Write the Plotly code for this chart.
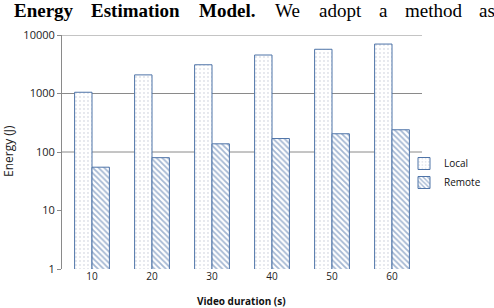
import plotly.graph_objects as go

# ---- data ----
durations = ["10", "20", "30", "40", "50", "60"]
local_energy = [1050, 2080, 3100, 4550, 5700, 7000]
remote_energy = [55, 80, 138, 170, 205, 240]
y_tick_vals = [1, 10, 100, 1000, 10000]
y_tick_text = ["1", "10", "100", "1000", "10000"]
grid_vals = [100, 1000, 10000]

heading_words = ["Energy", "Estimation", "Model.", "We", "adopt", "a", "method", "as"]
heading_bold = [True, True, True, False, False, False, False, False]

# ---- layout constants ----
W, H = 494, 308
L, R, T, B = 62, 72, 35, 39
PW = W - L - R
PH = H - T - B

def px_x(px):
    return (px - L) / PW

def px_y(py):
    return (H - B - py) / PH

edge = "#4f74a8"

fig = go.Figure()
fig.add_trace(go.Bar(
    name="Local", x=durations, y=local_energy,
    marker=dict(color="white", line=dict(color=edge, width=1),
                pattern=dict(shape=".", fgcolor="#7d8ca6", bgcolor="white",
                             size=4, solidity=0.1, fillmode="overlay")),
))
fig.add_trace(go.Bar(
    name="Remote", x=durations, y=remote_energy,
    marker=dict(color="white", line=dict(color=edge, width=1),
                pattern=dict(shape="\\", fgcolor="#4a6fa6", bgcolor="white",
                             size=4, solidity=0.45, fillmode="overlay")),
))

shapes = [dict(type="line", xref="paper", yref="y", x0=0, x1=1, y0=g, y1=g,
               line=dict(color="#8a8a8a", width=1), layer="below") for g in grid_vals]

# heading text (justified words)
word_x = [12, 89, 197, 273, 317, 377, 403, 477]
annotations = []
for w, b, xx in zip(heading_words, heading_bold, word_x):
    annotations.append(dict(
        text=f"<b>{w}</b>" if b else w, x=px_x(xx), y=px_y(11), xref="paper", yref="paper",
        xanchor="left", yanchor="middle", showarrow=False,
        font=dict(family="Liberation Serif", size=19, color="black")))

annotations.append(dict(
    text="Energy (J)", textangle=-90, x=px_x(8), y=px_y(151), xref="paper", yref="paper",
    xanchor="center", yanchor="middle", showarrow=False,
    font=dict(family="Open Sans", size=12, color="#222")))
annotations.append(dict(
    text="<b>Video duration (s)</b>", x=px_x(241), y=px_y(301), xref="paper", yref="paper",
    xanchor="center", yanchor="middle", showarrow=False,
    font=dict(family="Open Sans", size=10, color="#111")))

fig.update_layout(
    width=W, height=H, margin=dict(l=L, r=R, t=T, b=B, autoexpand=False),
    paper_bgcolor="white", plot_bgcolor="white",
    barmode="group", bargap=0.42, bargroupgap=0,
    shapes=shapes, annotations=annotations,
    legend=dict(x=px_x(404), y=px_y(173), xanchor="left", yanchor="middle",
                font=dict(family="Open Sans", size=10, color="#111"),
                itemwidth=30, tracegroupgap=4, bgcolor="rgba(0,0,0,0)"),
    xaxis=dict(type="category", showline=False, showgrid=False, ticks="",
               tickfont=dict(family="Open Sans", size=10, color="#222"), automargin=False),
    yaxis=dict(type="log", range=[0, 4], tickvals=y_tick_vals, ticktext=y_tick_text,
               showgrid=False, showline=True, linecolor="#8a8a8a", linewidth=1,
               ticks="outside", ticklen=4, tickcolor="#8a8a8a", zeroline=False,
               tickfont=dict(family="Open Sans", size=11, color="#222"), automargin=False),
)

fig.write_html("out.html")
